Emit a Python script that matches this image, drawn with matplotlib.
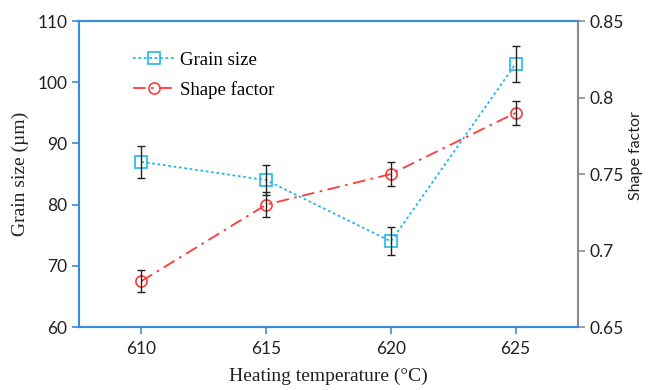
import matplotlib
matplotlib.use("Agg")
import matplotlib.pyplot as plt

temps = [610, 615, 620, 625]
grain_size = [87, 84, 74, 103]
grain_err = [2.6, 2.5, 2.3, 3.0]
shape_factor = [0.68, 0.73, 0.75, 0.79]
shape_err = [0.007, 0.008, 0.008, 0.008]

blue = "#3a8dd8"
cyan = "#20b8ea"
red = "#ff3a3a"
gray = "#8c8c8c"
serif = ["Liberation Serif", "DejaVu Serif"]
sans = ["Lato", "DejaVu Sans"]

fig = plt.figure(figsize=(6.48, 3.9), dpi=100)
ax = fig.add_axes([0.122, 0.1615, 0.770, 0.7845])
ax2 = ax.twinx()

# grain size on the left axis
ax.errorbar(temps, grain_size, yerr=grain_err, fmt="none", ecolor="#222222",
            elinewidth=1.0, capsize=3, capthick=1.0, zorder=3)
l1, = ax.plot(temps, grain_size, ls=(0, (1.5, 1.5)), lw=1.3, color=cyan,
              marker="s", ms=8, mfc="none", mec=cyan, mew=1.2, label="Grain size", zorder=2)

# shape factor on the right axis
ax2.errorbar(temps, shape_factor, yerr=shape_err, fmt="none", ecolor="#222222",
             elinewidth=1.0, capsize=3, capthick=1.0, zorder=3)
l2, = ax2.plot(temps, shape_factor, ls=(0, (7, 3, 1.5, 3)), lw=1.3, color=red,
               marker="o", ms=8, mfc="none", mec=red, mew=1.2, label="Shape factor", zorder=2)

ax.set_xlim(607.5, 627.5)
ax.set_ylim(60, 110)
ax2.set_ylim(0.65, 0.85)
ax.set_xticks(temps)
ax.set_yticks([60, 70, 80, 90, 100, 110])
ax2.set_yticks([0.65, 0.7, 0.75, 0.8, 0.85])
ax2.set_yticklabels(["0.65", "0.7", "0.75", "0.8", "0.85"])

for a in (ax, ax2):
    a.spines["top"].set_color(blue)
    a.spines["left"].set_color(blue)
    a.spines["bottom"].set_color(blue)
    a.spines["right"].set_color(gray)
    for s in a.spines.values():
        s.set_linewidth(1.5)
ax2.spines["right"].set_linewidth(1.2)

ax.tick_params(axis="x", colors=blue, labelcolor="#222222", length=5, width=1.2, labelsize=12.5, pad=5)
ax.tick_params(axis="y", colors=blue, labelcolor="#222222", length=5, width=1.2, labelsize=12.5)
ax2.tick_params(axis="y", colors=gray, labelcolor="#222222", length=5, width=1.2, labelsize=12.5)
for lab in ax.get_xticklabels() + ax.get_yticklabels() + ax2.get_yticklabels():
    lab.set_family(sans)

ax.set_xlabel("Heating temperature (°C)", family=serif, fontsize=14, color="#222222", labelpad=8)
ax.set_ylabel("Grain size (µm)", family=serif, fontsize=14, color="#222222", labelpad=6)
ax2.set_ylabel("Shape factor", family=sans, fontsize=11.5, color="#222222")
ax2.yaxis.set_label_coords(1.102, 0.56)

leg = ax.legend(handles=[l1, l2], loc="upper left", bbox_to_anchor=(0.075, 0.955),
                frameon=False, prop={"family": serif, "size": 13.5},
                handlelength=2.2, handletextpad=0.3, labelspacing=0.65)

fig.savefig("out.png", dpi=100)
